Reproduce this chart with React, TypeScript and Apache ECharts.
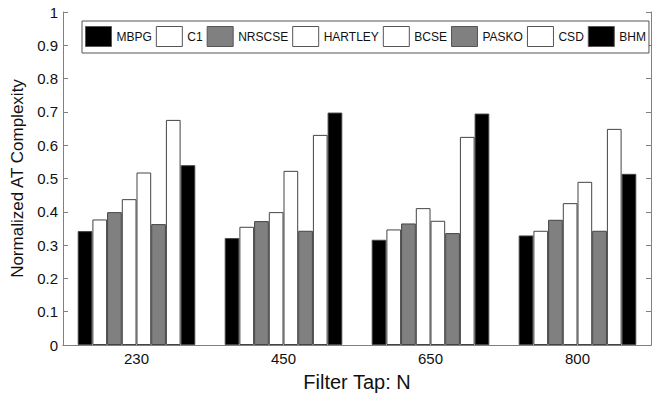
import React, { useEffect, useRef } from "react";
import * as echarts from "echarts";

const categories = ["230", "450", "650", "800"];
const seriesNames = ["MBPG", "C1", "NRSCSE", "HARTLEY", "BCSE", "PASKO", "CSD", "BHM"];
const seriesColors = ["#000000", "#ffffff", "#808080", "#ffffff", "#ffffff", "#808080", "#ffffff", "#000000"];
const mbpg = [0.342, 0.321, 0.316, 0.329];
const c1 = [0.377, 0.355, 0.347, 0.343];
const nrscse = [0.399, 0.372, 0.365, 0.376];
const hartley = [0.438, 0.399, 0.411, 0.426];
const bcse = [0.518, 0.523, 0.373, 0.49];
const pasko = [0.363, 0.343, 0.336, 0.343];
const csd = [0.676, 0.631, 0.625, 0.649];
const bhm = [0.54, 0.698, 0.695, 0.514];
const seriesValues = [mbpg, c1, nrscse, hartley, bcse, pasko, csd, bhm];
const yTicks = ["0", "0.1", "0.2", "0.3", "0.4", "0.5", "0.6", "0.7", "0.8", "0.9", "1"];

const axisColor = "#808080";
const font = "Arial, 'Liberation Sans', sans-serif";

export default function App() {
  const ref = useRef<HTMLDivElement>(null);
  useEffect(() => {
    if (!ref.current) return;
    const chart = echarts.init(ref.current, null, { renderer: "svg" });
    chart.setOption({
      animation: false,
      backgroundColor: "#ffffff",
      textStyle: { fontFamily: font },
      grid: { left: 63, right: 11, top: 12, bottom: 49, containLabel: false },
      legend: {
        left: 82,
        top: 21,
        padding: [5, 3, 6, 3],
        itemGap: 4,
        itemWidth: 26,
        itemHeight: 20,
        borderColor: "#555555",
        borderWidth: 1,
        backgroundColor: "#ffffff",
        textStyle: { fontSize: 12, color: "#111", fontFamily: font },
        data: seriesNames.map((n, i) => ({
          name: n,
          icon: "rect",
          itemStyle: { color: seriesColors[i], borderColor: "#555", borderWidth: 1 },
        })),
      },
      xAxis: [
        {
          type: "category",
          data: categories,
          position: "bottom",
          name: "Filter Tap: N",
          nameLocation: "middle",
          nameGap: 27,
          nameTextStyle: { fontSize: 20, color: "#111", fontFamily: font },
          axisLine: { lineStyle: { color: axisColor, width: 1 } },
          axisTick: { inside: true, alignWithLabel: true, length: 5, lineStyle: { color: axisColor } },
          axisLabel: { fontSize: 15, color: "#111", margin: 6 },
        },
        {
          type: "category",
          data: categories,
          position: "top",
          axisLine: { lineStyle: { color: axisColor, width: 1 } },
          axisTick: { inside: true, alignWithLabel: true, length: 5, lineStyle: { color: axisColor } },
          axisLabel: { show: false },
        },
      ],
      yAxis: [
        {
          type: "value",
          min: 0,
          max: 1,
          interval: 0.1,
          name: "Normalized AT Complexity",
          nameLocation: "middle",
          nameGap: 28,
          nameTextStyle: { fontSize: 17, color: "#111", fontFamily: font },
          axisLine: { show: true, lineStyle: { color: axisColor, width: 1 } },
          axisTick: { show: true, inside: true, length: 5, lineStyle: { color: axisColor } },
          splitLine: { show: false },
          axisLabel: {
            fontSize: 15,
            color: "#111",
            margin: 5,
            formatter: (v: number) => yTicks[Math.round(v * 10)],
          },
        },
        {
          type: "value",
          min: 0,
          max: 1,
          interval: 0.1,
          position: "right",
          axisLine: { show: true, lineStyle: { color: axisColor, width: 1 } },
          axisTick: { show: true, inside: true, length: 5, lineStyle: { color: axisColor } },
          splitLine: { show: false },
          axisLabel: { show: false },
        },
      ],
      series: seriesNames.map((n, i) => ({
        name: n,
        type: "bar",
        xAxisIndex: 0,
        yAxisIndex: 0,
        data: seriesValues[i],
        barGap: "0%",
        barCategoryGap: "20%",
        itemStyle: { color: seriesColors[i], borderColor: "#444444", borderWidth: 1 },
      })),
    });
    return () => chart.dispose();
  }, []);
  return <div ref={ref} style={{ width: 662, height: 397, position: "absolute", left: 0, top: 0 }} />;
}
